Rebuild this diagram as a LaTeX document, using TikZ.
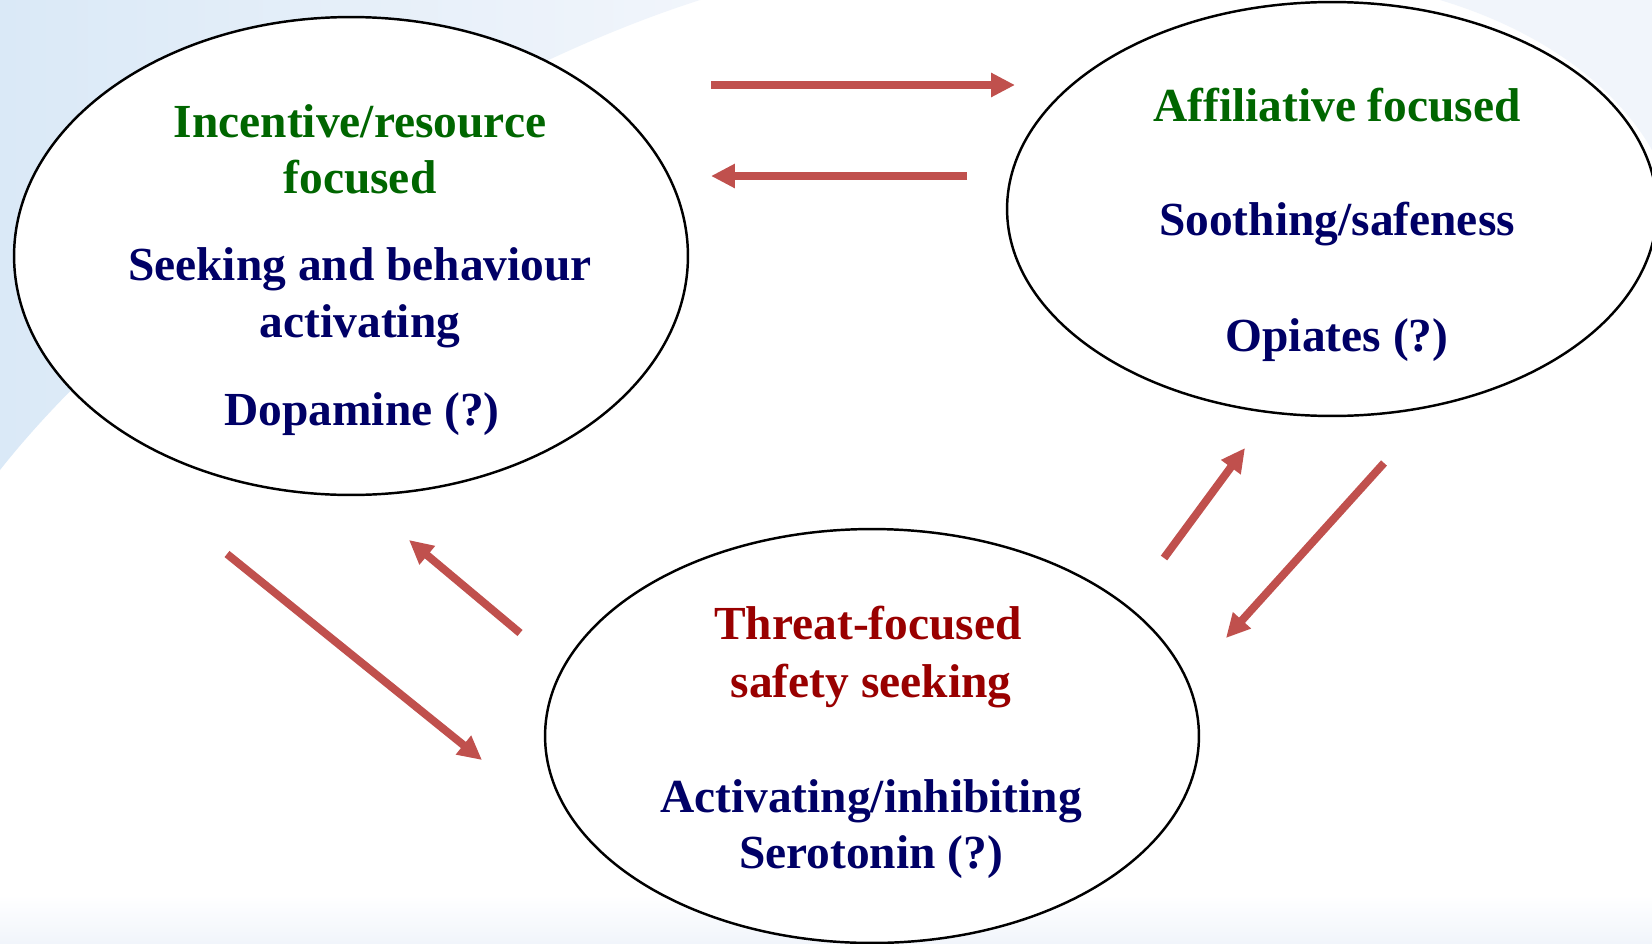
\documentclass[tikz,border=0pt]{standalone}
\usepackage{fontspec}
\setmainfont{Liberation Serif}
\usetikzlibrary{shapes.geometric}
\usetikzlibrary{arrows.meta}
\definecolor{arrred}{RGB}{192,80,77}
\definecolor{txtgreen}{RGB}{0,102,0}
\definecolor{txtnavy}{RGB}{0,0,102}
\definecolor{txtred}{RGB}{153,0,0}
\definecolor{bgblue}{RGB}{218,233,247}
\definecolor{bgpale}{RGB}{241,245,251}

\begin{document}
\begin{tikzpicture}[x=0.02cm, y=-0.02cm,
    bubble/.style={draw, fill=white, ellipse, line width=1.4pt, inner sep=0pt},
    lbl/.style={anchor=base, inner sep=0pt, font=\fontsize{27}{32}\selectfont\bfseries},
    link/.style={draw=arrred, line width=4.5pt, -{Triangle[length=13.6pt, width=13pt]}}]
        \useasboundingbox (0,0) rectangle (1652,943);
        \fill[white] (0,0) rectangle (1652,943);
        \shade[left color=bgblue, right color=bgpale] (0,0) -- (700,0) .. controls (450,80) and (150,280) .. (0,470) -- cycle;
        \fill[bgpale] (1440,0) .. controls (1540,30) and (1615,85) .. (1652,150) -- (1652,0) -- cycle;
        \shade[top color=white, bottom color=bgpale] (0,895) rectangle (1652,943);

        \node[bubble, minimum width=13.48cm, minimum height=9.56cm] (inc) at (351,256) {};
        \node[bubble, minimum width=13cm, minimum height=8.28cm] (aff) at (1332,209) {};
        \node[bubble, minimum width=13.08cm, minimum height=8.28cm] (thr) at (872,736) {};

        \node[lbl, text=txtgreen] (inctop) at (360,137) {Incentive/resource};
        \node[lbl, text=txtgreen] (incfoc) at (360,193) {focused};
        \node[lbl, text=txtnavy] (incseek) at (360,280) {Seeking and behaviour};
        \node[lbl, text=txtnavy] (incact) at (360,337) {activating};
        \node[lbl, text=txtnavy] (incdop) at (362,425) {Dopamine (?)};

        \node[lbl, text=txtgreen] (afffoc) at (1337,121) {Affiliative focused};
        \node[lbl, text=txtnavy] (affsoo) at (1337,235) {Soothing/safeness};
        \node[lbl, text=txtnavy] (affopi) at (1337,351) {Opiates (?)};

        \node[lbl, text=txtred] (thrtop) at (868,639) {Threat-focused};
        \node[lbl, text=txtred] (thrsaf) at (871,697) {safety seeking};
        \node[lbl, text=txtnavy] (thract) at (871,812) {Activating/inhibiting};
        \node[lbl, text=txtnavy] (thrser) at (871,868) {Serotonin (?)};

        \coordinate (ia1) at (711,85);
        \coordinate (ia2) at (1015,85);
        \coordinate (ai1) at (967,176);
        \coordinate (ai2) at (711,176);
        \coordinate (it1) at (227,554);
        \coordinate (it2) at (482,760);
        \coordinate (ti1) at (520,633);
        \coordinate (ti2) at (409,540);
        \coordinate (ta1) at (1164,558);
        \coordinate (ta2) at (1245,448);
        \coordinate (at1) at (1384,463);
        \coordinate (at2) at (1226,638);
        \draw[link] (ia1) -- (ia2);
        \draw[link] (ai1) -- (ai2);
        \draw[link] (it1) -- (it2);
        \draw[link] (ti1) -- (ti2);
        \draw[link] (ta1) -- (ta2);
        \draw[link] (at1) -- (at2);
    \end{tikzpicture}
\end{document}
